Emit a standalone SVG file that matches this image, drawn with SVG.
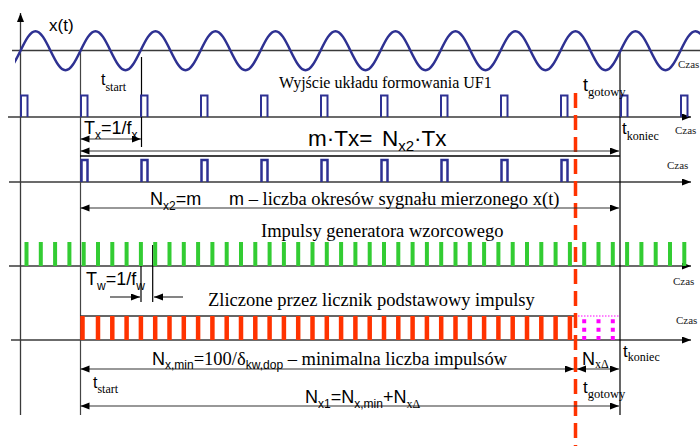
<svg xmlns="http://www.w3.org/2000/svg" width="700" height="446" viewBox="0 0 700 446">
<style>
.sans{font-family:"Liberation Sans",Arial,sans-serif;fill:#000}
.serif{font-family:"Liberation Serif","Times New Roman",serif;fill:#000}
.axis{stroke:#3a3a3a;stroke-width:1.3;fill:none}
.vl{stroke:#444;stroke-width:1.2;fill:none}
.blk{stroke:#000;stroke-width:1.2;fill:none}
.dim{stroke:#333;stroke-width:1.2;fill:none;marker-start:url(#ah);marker-end:url(#ah)}
.one{stroke:#333;stroke-width:1.2;fill:none;marker-end:url(#ah)}
.navy{stroke:#2e3192;fill:none}
.czas{font-family:"Liberation Serif","Times New Roman",serif;font-size:11px;fill:#222}
</style>
<defs>
<marker id="ah" markerUnits="userSpaceOnUse" markerWidth="10" markerHeight="8" refX="9" refY="3.5" orient="auto-start-reverse">
<path d="M0,0 L9,3.5 L0,7 z" fill="#000"/>
</marker>
<clipPath id="clipw"><rect x="15" y="0" width="685" height="100"/></clipPath>
</defs>

<g id="axes">
<path class="axis" d="M12,50.5H700"/>
<path class="axis" d="M8,117H691" marker-end="url(#ah)"/>
<path class="axis" d="M9,182H691" marker-end="url(#ah)"/>
<path class="axis" d="M9,266H691" marker-end="url(#ah)"/>
<path class="axis" d="M11,340H691" marker-end="url(#ah)"/>
<path class="axis" d="M20.5,415V13" marker-end="url(#ah)"/>
<path class="vl" d="M80.5,50V415"/>
<path class="blk" d="M620,50V415"/>
<path class="blk" d="M141.5,57V147"/>
<path class="blk" d="M141,245V302M152.7,245V302"/>
</g>

<g id="signal-x">
<path class="navy" stroke-width="2.5" clip-path="url(#clipw)" d="M5.5,70.2c5.27,0 9.73,-8.73 15,-19.5
c5.27,-10.77 9.730,-19.5 15,-19.5c5.27,0 9.73,8.73 15,19.5c5.27,10.77 9.73,19.5 15,19.5c5.27,0 9.73,-8.73 15,-19.5
c5.27,-10.77 9.73,-19.5 15,-19.5c5.27,0 9.73,8.73 15,19.5c5.27,10.77 9.73,19.5 15,19.5c5.27,0 9.73,-8.73 15,-19.5
c5.27,-10.77 9.73,-19.5 15,-19.5c5.27,0 9.73,8.73 15,19.5c5.27,10.77 9.73,19.5 15,19.5c5.27,0 9.73,-8.73 15,-19.5
c5.27,-10.77 9.73,-19.5 15,-19.5c5.27,0 9.73,8.73 15,19.5c5.27,10.77 9.73,19.5 15,19.5c5.27,0 9.73,-8.73 15,-19.5
c5.27,-10.77 9.73,-19.5 15,-19.5c5.27,0 9.73,8.73 15,19.5c5.27,10.77 9.73,19.5 15,19.5c5.27,0 9.73,-8.73 15,-19.5
c5.27,-10.77 9.73,-19.5 15,-19.5c5.27,0 9.73,8.73 15,19.5c5.27,10.77 9.73,19.5 15,19.5c5.27,0 9.73,-8.73 15,-19.5
c5.27,-10.77 9.73,-19.5 15,-19.5c5.27,0 9.73,8.73 15,19.5c5.27,10.77 9.73,19.5 15,19.5c5.27,0 9.73,-8.73 15,-19.5
c5.27,-10.77 9.73,-19.5 15,-19.5c5.27,0 9.73,8.73 15,19.5c5.27,10.77 9.73,19.5 15,19.5c5.27,0 9.73,-8.73 15,-19.5
c5.27,-10.77 9.73,-19.5 15,-19.5c5.27,0 9.73,8.73 15,19.5c5.27,10.77 9.73,19.5 15,19.5c5.27,0 9.73,-8.73 15,-19.5
c5.27,-10.77 9.73,-19.5 15,-19.5c5.27,0 9.73,8.73 15,19.5c5.27,10.77 9.73,19.5 15,19.5c5.27,0 9.73,-8.73 15,-19.5
c5.27,-10.77 9.73,-19.5 15,-19.5c5.27,0 9.73,8.73 15,19.5c5.27,10.77 9.73,19.5 15,19.5c5.27,0 9.73,-8.73 15,-19.5
c5.27,-10.77 9.73,-19.5 15,-19.5c5.27,0 9.73,8.73 15,19.5c5.27,10.77 9.73,19.5 15,19.5c5.27,0 9.73,-8.73 15,-19.5"/>
</g>

<g id="uf1-pulses">
<path class="navy" stroke-width="2" d="M21,117V95.5H27.5V117M81,117V95.5H87.5V117M141,117V95.5H147.5V117M201,117V95.5H207.5V117M261,117V95.5H267.5V117M321,117V95.5H327.5V117M381,117V95.5H387.5V117M441,117V95.5H447.5V117M501,117V95.5H507.5V117M561,117V95.5H567.5V117M621,117V95.5H627.5V117M681,117V95.5H687.5V117"/>
</g>

<g id="gated-pulses">
<path stroke="#000" stroke-width="1.5" d="M80,156H620"/>
<path class="navy" stroke-width="2.5" d="M81.5,182V160H87.5V182M141.5,182V160H147.5V182M201.5,182V160H207.5V182M261.5,182V160H267.5V182M321.5,182V160H327.5V182M381.5,182V160H387.5V182M441.5,182V160H447.5V182M501.5,182V160H507.5V182M561.5,182V160H567.5V182"/>
</g>

<g id="generator-pulses">
<path stroke="#33cc33" stroke-width="4" d="M26.5,242V266M40.8,242V266M55.1,242V266M69.4,242V266M83.7,242V266M98,242V266M112.3,242V266M126.6,242V266M140.9,242V266M155.2,242V266M169.5,242V266M183.8,242V266M198.1,242V266M212.4,242V266M226.7,242V266M241,242V266M255.3,242V266M269.6,242V266M283.9,242V266M298.2,242V266M312.5,242V266M326.8,242V266M341.1,242V266M355.4,242V266M369.7,242V266M384,242V266M398.3,242V266M412.6,242V266M426.9,242V266M441.2,242V266M455.5,242V266M469.8,242V266M484.1,242V266M498.4,242V266M512.7,242V266M527,242V266M541.3,242V266M555.6,242V266M569.9,242V266M584.2,242V266M598.5,242V266M612.8,242V266M627.1,242V266M641.4,242V266M655.7,242V266M670,242V266M684.3,242V266"/>
</g>

<g id="counter-pulses">
<path stroke="#333" stroke-width="1.5" d="M80,316H575"/>
<path stroke="#ff00ff" stroke-width="1" stroke-dasharray="1.5 1.5" d="M575,316H620"/>
<path stroke="#ff3300" stroke-width="4.5" d="M82.5,316V340M98,316V340M112.3,316V340M126.6,316V340M140.9,316V340M155.2,316V340M169.5,316V340M183.8,316V340M198.1,316V340M212.4,316V340M226.7,316V340M241,316V340M255.3,316V340M269.6,316V340M283.9,316V340M298.2,316V340M312.5,316V340M326.8,316V340M341.1,316V340M355.4,316V340M369.7,316V340M384,316V340M398.3,316V340M412.6,316V340M426.9,316V340M441.2,316V340M455.5,316V340M469.8,316V340M484.1,316V340M498.4,316V340M512.7,316V340M527,316V340M541.3,316V340M555.6,316V340M569.9,316V340"/>
<path stroke="#ff00ff" stroke-width="4" stroke-dasharray="4 4.4" d="M584.2,319.3V340M598.5,319.3V340M612.8,319.3V340"/>
</g>

<g id="ready-line">
<path stroke="#ff3300" stroke-width="3.5" stroke-dasharray="15 7" d="M575.5,93V446"/>
</g>

<g id="connectors">
<path class="dim" d="M80.5,139H141"/>
<path class="dim" d="M80.5,151H619"/>
<path class="dim" d="M80.5,208H619"/>
<path class="dim" d="M80.5,369H574"/>
<path class="dim" d="M577,369H619"/>
<path class="dim" d="M80.5,406H619"/>
<path class="one" d="M110,297H140"/>
<path class="one" d="M183,297H154"/>
</g>

<g id="labels">
<text class="sans" x="49" y="31" font-size="17">x(t)</text>
<text class="sans" x="101" y="85" font-size="16">t<tspan class="serif" font-size="12" dy="6">start</tspan></text>
<text class="serif" x="279" y="88" font-size="16">Wyjście układu formowania UF1</text>
<text class="sans" x="583" y="90.5" font-size="18">t<tspan class="serif" font-size="12.5" dy="5.5">gotowy</tspan></text>
<text class="sans" x="622" y="133.5" font-size="17">t<tspan class="serif" font-size="12" dy="6.5">koniec</tspan></text>
<text class="sans" x="84" y="134" font-size="18">T<tspan font-size="12" dy="5">x</tspan><tspan dy="-5">=1/f</tspan><tspan font-size="12" dy="5">x</tspan></text>
<text class="sans" x="308" y="145.5" font-size="22.5">m·Tx=<tspan x="382">N</tspan><tspan font-size="15" dy="5">x2</tspan><tspan dy="-5">·Tx</tspan></text>
<text class="sans" x="150" y="205" font-size="18">N<tspan font-size="12" dy="5">x2</tspan><tspan dy="-5">=m</tspan></text>
<text class="sans" x="229" y="205" font-size="18">m<tspan class="serif" font-size="18.5"> – liczba okresów sygnału mierzonego x(t)</tspan></text>
<text class="serif" x="261" y="237" font-size="18.5">Impulsy generatora wzorcowego</text>
<text class="sans" x="86" y="285" font-size="18">T<tspan font-size="12" dy="5">w</tspan><tspan dy="-5">=1/f</tspan><tspan font-size="12" dy="5">w</tspan></text>
<text class="serif" x="208" y="306" font-size="18.5">Zliczone przez licznik podstawowy impulsy</text>
<text class="sans" x="152" y="365" font-size="18">N<tspan font-size="12" dy="4">x,min</tspan><tspan class="serif" font-size="18.5" dy="-4">=100/δ</tspan><tspan font-size="12" dy="4">kw,dop</tspan><tspan class="serif" font-size="18.5" dy="-4"> – minimalna liczba impulsów</tspan></text>
<text class="sans" x="582" y="365" font-size="18">N<tspan class="serif" font-size="12" dy="3">xΔ</tspan></text>
<text class="sans" x="623" y="356.5" font-size="17">t<tspan class="serif" font-size="12" dy="4">koniec</tspan></text>
<text class="sans" x="93" y="388" font-size="16">t<tspan class="serif" font-size="12" dy="5">start</tspan></text>
<text class="sans" x="305" y="403" font-size="18">N<tspan font-size="12" dy="5">x1</tspan><tspan dy="-5">=N</tspan><tspan font-size="12" dy="5">x,min</tspan><tspan dy="-5">+N</tspan><tspan class="serif" font-size="12" dy="5">xΔ</tspan></text>
<text class="sans" x="583" y="393" font-size="17">t<tspan class="serif" font-size="12.5" dy="5">gotowy</tspan></text>
<text class="czas" x="678" y="68">Czas</text>
<text class="czas" x="675" y="134">Czas</text>
<text class="czas" x="667" y="169">Czas</text>
<text class="czas" x="673" y="285">Czas</text>
<text class="czas" x="676" y="324">Czas</text>
</g>
</svg>
